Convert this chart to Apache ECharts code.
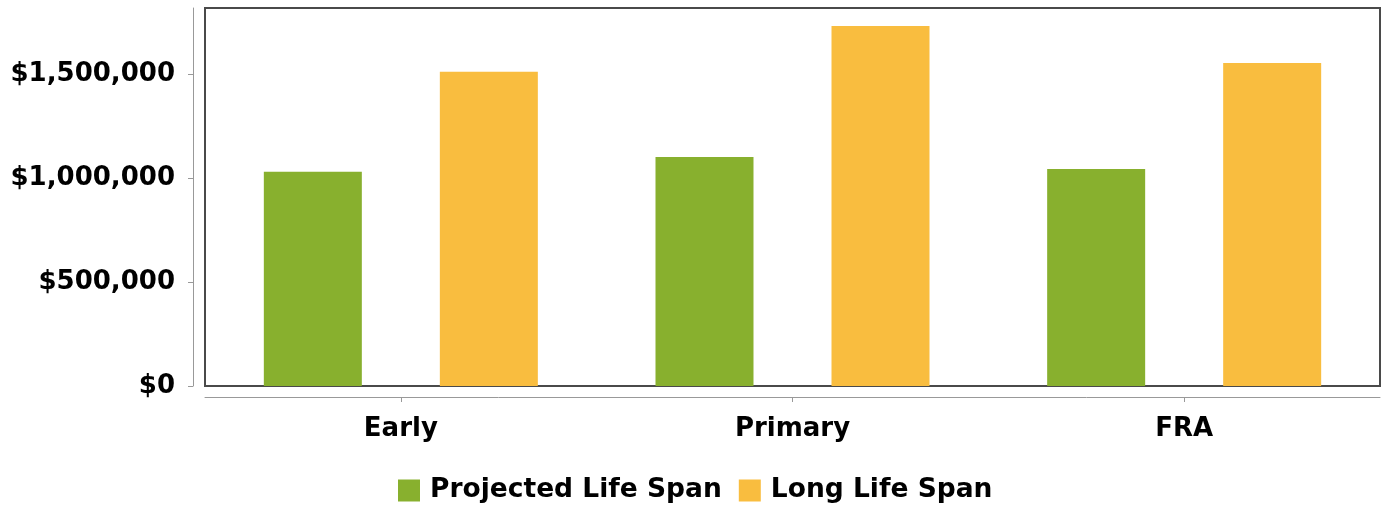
<!DOCTYPE html>
<html>
<head>
<meta charset="utf-8">
<script src="https://cdn.jsdelivr.net/npm/echarts@6/dist/echarts.min.js"></script>
<style>html,body{margin:0;padding:0;background:#fff}#c{width:1383px;height:505px}</style>
</head>
<body>
<div id="c"></div>
<script>
const categories = ['Early', 'Primary', 'FRA'];
const projectedLifeSpan = [1029000, 1101000, 1043000];
const longLifeSpan = [1510000, 1730000, 1552000];
const yTicks = [0, 500000, 1000000, 1500000];
const yMax = 1816500;

const FONT = 'DejaVu Sans';
const chart = echarts.init(document.getElementById('c'), null, {renderer: 'canvas'});
chart.setOption({
  animation: false,
  backgroundColor: '#fff',
  grid: {left: 205, top: 8, right: 3, bottom: 119, show: true, borderColor: '#4a4a4a', borderWidth: 2, backgroundColor: 'transparent'},
  legend: {
    top: 472, left: 393, itemWidth: 22, itemHeight: 22, itemGap: 17,
    icon: 'rect',
    textStyle: {fontFamily: FONT, fontWeight: 'bold', fontSize: 26.5, color: '#000', padding: [0, 0, 0, 5]},
    data: ['Projected Life Span', 'Long Life Span']
  },
  xAxis: {
    type: 'category', data: categories, offset: 11,
    axisLine: {show: true, onZero: false, lineStyle: {color: '#999', width: 1}},
    axisTick: {show: true, alignWithLabel: true, length: 5, lineStyle: {color: '#999'}},
    axisLabel: {margin: 19, fontFamily: FONT, fontWeight: 'bold', fontSize: 26, color: '#000'},
    splitLine: {show: false}
  },
  yAxis: {
    type: 'value', min: 0, max: yMax, interval: 500000, offset: 12,
    axisLine: {show: true, lineStyle: {color: '#999', width: 1}},
    axisTick: {show: true, length: 5, lineStyle: {color: '#999'}, customValues: yTicks},
    axisLabel: {margin: 18, fontFamily: FONT, fontWeight: 'bold', fontSize: 26, color: '#000', customValues: yTicks,
      padding: [3, 0, 0, 0],
      formatter: v => '$' + Math.round(v).toLocaleString('en-US')},
    splitLine: {show: false}
  },
  series: [
    {name: 'Projected Life Span', type: 'bar', data: projectedLifeSpan, barWidth: 98, barGap: '79.6%', itemStyle: {color: '#88B02E'}},
    {name: 'Long Life Span', type: 'bar', data: longLifeSpan, barWidth: 98, barGap: '79.6%', itemStyle: {color: '#F9BD3F'}}
  ]
});
</script>
</body>
</html>
